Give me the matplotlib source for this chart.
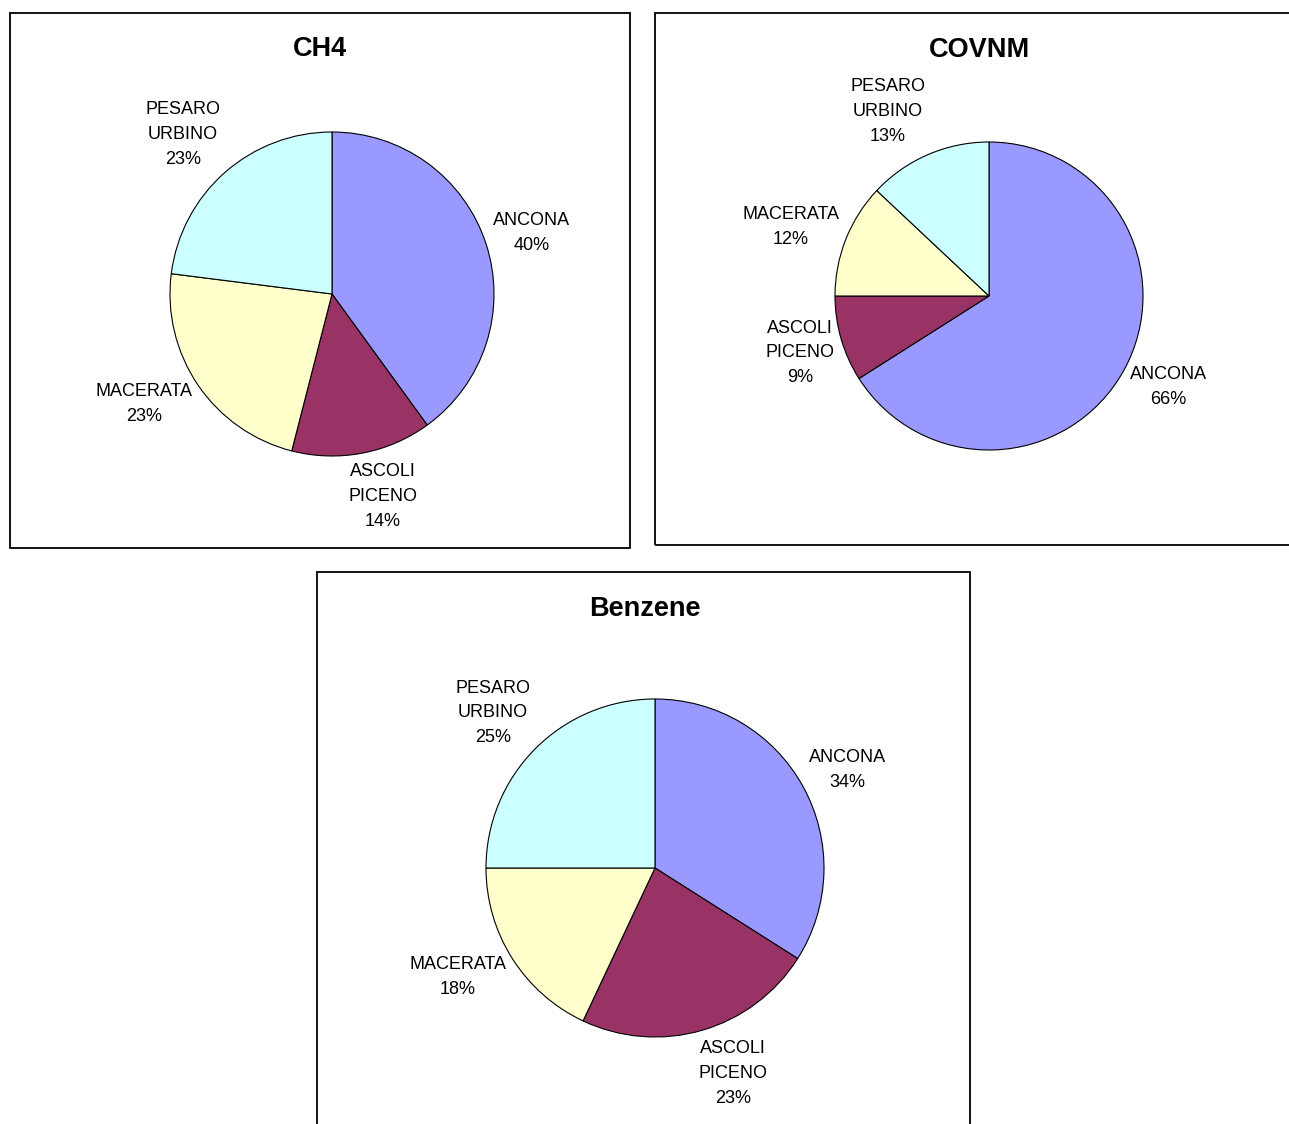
import matplotlib
matplotlib.use("Agg")
import matplotlib.pyplot as plt
import numpy as np
from matplotlib.patches import Rectangle

plt.rcParams["font.family"] = ["Liberation Sans", "DejaVu Sans"]

# ── Data ─────────────────────────────────────────────────────────────────
provinces = ["ANCONA", "ASCOLI\nPICENO", "MACERATA", "PESARO\nURBINO"]
ch4 = [40, 14, 23, 23]
covnm = [66, 9, 12, 13]
benzene = [34, 23, 18, 25]
titles = ["CH4", "COVNM", "Benzene"]

colors = ["#9999FF", "#993366", "#FFFFCC", "#CCFFFF"]

W, H = 1289, 1124
fig = plt.figure(figsize=(W / 100, H / 100), dpi=100, facecolor="white")


def fx(px):
    return px / W


def fy(py):
    return 1 - py / H


# chart frames (x0, y0, x1, y1 in pixels from top-left)
frames = [(10, 13, 630, 548), (655, 13, 1295, 545), (317, 572, 970, 1130)]
for x0, y0, x1, y1 in frames:
    fig.add_artist(Rectangle((fx(x0), fy(y1)), fx(x1 - x0), (y1 - y0) / H,
                             transform=fig.transFigure, facecolor="none",
                             edgecolor="black", linewidth=1.3))

# pie centre and radius in pixels, title position
layouts = [
    dict(cx=332, cy=294, r=162, tx=320, ty=49),
    dict(cx=989, cy=296, r=154, tx=980, ty=50),
    dict(cx=655, cy=868, r=169, tx=645, ty=609),
]

L = 1.7
GAP = 7  # pixels between pie edge and label anchor

fig.canvas.draw()
renderer = fig.canvas.get_renderer()

for values, title, lay in zip([ch4, covnm, benzene], titles, layouts):
    cx, cy, r = lay["cx"], lay["cy"], lay["r"]
    ax = fig.add_axes([fx(cx - r * L), fy(cy + r * L), 2 * r * L / W, 2 * r * L / H])
    wedges, _ = ax.pie(values, colors=colors, startangle=90, counterclock=False,
                       wedgeprops=dict(edgecolor="black", linewidth=0.8))
    ax.set_xlim(-L, L)
    ax.set_ylim(-L, L)
    ax.set_aspect("equal")
    ax.axis("off")

    fig.text(fx(lay["tx"]), fy(lay["ty"]), title, ha="center", va="center",
             fontsize=19.5, fontweight="bold")

    # labels sit just outside the slice, pushed out by their own box size
    for w, name, v in zip(wedges, provinces, values):
        ang = np.deg2rad((w.theta1 + w.theta2) / 2)
        c, s = np.cos(ang), np.sin(ang)
        txt = ax.text(0, 0, f"{name}\n{v}%", ha="center", va="center",
                      fontsize=13, linespacing=1.6, multialignment="center")
        bb = txt.get_window_extent(renderer=renderer)
        hw, hh = bb.width / 2, bb.height / 2
        ox = hw * np.clip(3 * c, -1, 1)
        oy = hh * np.clip(1.3 * s, -1.1, 1.1)
        txt.set_position((((r + GAP) * c + ox) / r, ((r + GAP) * s + oy) / r))

fig.savefig("out.png", dpi=100, facecolor="white")
